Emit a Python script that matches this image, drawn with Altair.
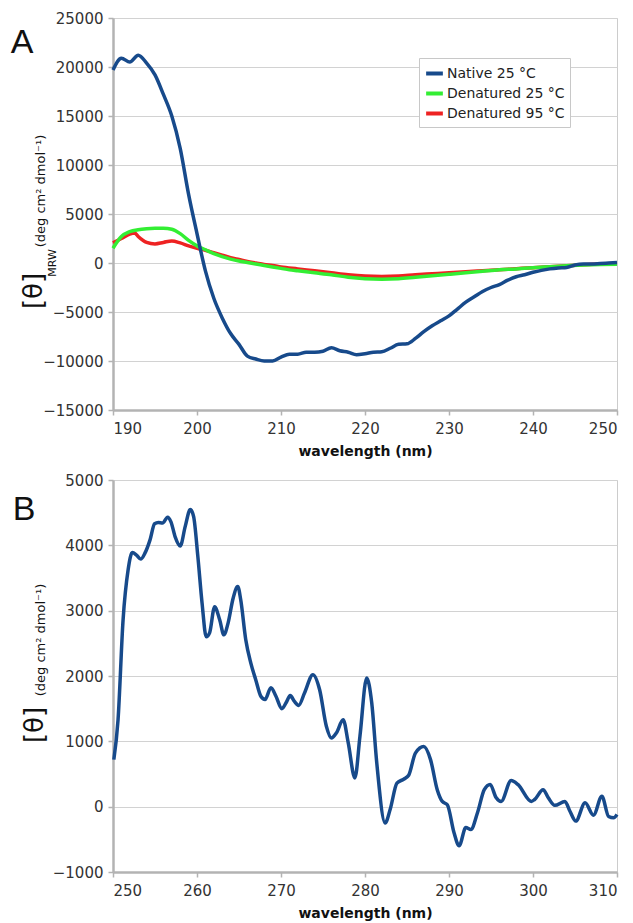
import altair as alt
import pandas as pd

# ---------------- Panel A data ----------------
native_wl = [190, 191, 192, 193, 194, 195, 196, 197, 198, 199, 200, 201, 202, 203, 204, 205,
             206, 207, 208, 209, 210, 211, 212, 213, 214, 215, 216, 217, 218, 219, 220, 221,
             222, 223, 224, 225, 226, 227, 228, 229, 230, 231, 232, 233, 234, 235, 236, 237,
             238, 239, 240, 241, 242, 243, 244, 245, 246, 247, 248, 249, 250]
native_val = [19700, 20900, 20500, 21200, 20400, 19200, 17200, 15000, 11700, 7000, 3000, -800,
              -3600, -5600, -7200, -8300, -9500, -9800, -10000, -10000, -9600, -9300, -9300,
              -9100, -9100, -9000, -8650, -8950, -9100, -9350, -9250, -9100, -9050, -8700,
              -8300, -8250, -7700, -7000, -6400, -5900, -5400, -4700, -4000, -3450, -2900,
              -2500, -2200, -1750, -1400, -1200, -950, -750, -600, -500, -450, -200, -100,
              -100, -50, 0, 50]

den25_wl = [190, 191, 192, 193, 194, 195, 196, 197, 198, 199, 200, 201, 202, 203, 204, 205,
            206, 207, 208, 209, 210, 211, 212, 213, 214, 216, 218, 220, 222, 224, 226, 228,
            230, 232, 234, 236, 238, 240, 242, 244, 246, 248, 250]
den25_val = [1500, 2700, 3200, 3400, 3500, 3550, 3550, 3450, 3000, 2300, 1750, 1350, 950, 650,
             400, 200, 50, -100, -250, -400, -550, -700, -800, -900, -1000, -1200, -1450,
             -1600, -1650, -1600, -1450, -1300, -1150, -1000, -850, -700, -600, -480, -380,
             -280, -200, -150, -130]

den95_wl = [190, 191, 192, 192.6, 193, 194, 195, 196, 197, 198, 199, 200, 201, 202, 203, 204,
            205, 206, 207, 208, 209, 210, 212, 214, 216, 218, 220, 222, 224, 226, 228, 230,
            232, 234, 236, 238, 240, 242, 244, 246, 248, 250]
den95_val = [2050, 2500, 2950, 3050, 2700, 2100, 1950, 2100, 2250, 2050, 1750, 1500, 1300, 1050,
             800, 550, 350, 150, 0, -150, -250, -400, -600, -800, -1000, -1200, -1330, -1370,
             -1330, -1200, -1100, -1000, -880, -780, -680, -580, -480, -380, -280, -180, -100,
             -60]

series_names = ["Native 25 °C", "Denatured 25 °C", "Denatured 95 °C"]
series_colors = ["#174a8b", "#33ee33", "#ee2222"]

# ---------------- Panel B data ----------------
b_wl = [250.1, 250.6, 251.2, 251.8, 252.3, 252.8, 253.3, 253.8, 254.4, 254.95, 255.4, 255.9,
        256.5, 256.9, 257.4, 258.0, 258.6, 259.2, 259.6, 260.1, 260.6, 261.1, 261.5, 262.1,
        262.7, 263.2, 263.7, 264.3, 264.85, 265.2, 265.8, 266.4, 267.0, 267.6, 268.1, 268.8,
        269.4, 270.1, 270.6, 271.1, 271.6, 272.1, 272.8, 273.8, 274.6, 275.4, 276.0, 276.6,
        277.4, 278.0, 278.8, 279.4, 280.2, 280.8, 281.4, 282.4, 283.0, 283.8, 284.6, 285.2,
        286.0, 287.0, 287.8, 288.6, 289.2, 289.8, 290.6, 291.2, 292.0, 292.6, 293.4, 294.2,
        294.9, 295.6, 296.2, 297.4, 298.2, 299.8, 300.2, 301.2, 301.8, 302.6, 303.8, 304.4,
        305.1, 306.2, 307.2, 308.2, 309.0, 309.6, 310.0]
b_val = [720, 1330, 2860, 3625, 3890, 3850, 3790, 3880, 4080, 4330, 4350, 4340, 4430, 4360,
         4130, 3990, 4290, 4550, 4440, 3830, 3120, 2600, 2660, 3060, 2860, 2630, 2810, 3190,
         3370, 3170, 2560, 2200, 1940, 1690, 1640, 1820, 1690, 1500, 1590, 1700, 1610, 1550,
         1740, 2020, 1790, 1230, 1050, 1130, 1330, 980, 440, 1080, 1970, 1590, 670, -250, -40,
         360, 420, 480, 820, 920, 720, 260, 80, 30, -400, -600, -320, -350, -90, 260, 340, 140,
         80, 400, 340, 80, 110, 260, 140, 20, 80, -70, -220, 60, -130, 160, -150, -170, -120]

# ---------------- Text ----------------
x_title = "wavelength (nm)"
theta_label = ["[θ]"]
mrw_label = ["MRW"]
unit_label = ["(deg cm² dmol⁻¹)"]
panel_a = ["A"]
panel_b = ["B"]

a_ticks_x = [190, 200, 210, 220, 230, 240, 250]
a_ticks_y = [-15000, -10000, -5000, 0, 5000, 10000, 15000, 20000, 25000]
b_ticks_x = [250, 260, 270, 280, 290, 300, 310]
b_ticks_y = [-1000, 0, 1000, 2000, 3000, 4000, 5000]

W, H = 504, 392
LABEL_COLOR = "#333333"
FONT = "DejaVu Sans"


def make_df(wl, val, name):
    return pd.DataFrame({"wl": wl, "val": val, "series": name})


color_scale = alt.Scale(domain=series_names, range=series_colors)


def axis_x(vals):
    return alt.Axis(values=vals, title=x_title, grid=False, tickSize=5, labelPadding=6,
                    titlePadding=8)


def axis_y(vals):
    return alt.Axis(values=vals, title=None, format="d", tickSize=5, labelPadding=5,
                    grid=True)


def line_layer(df, xdom, ydom, xt, yt, legend=False):
    enc_color = alt.Color(
        "series:N", scale=color_scale,
        legend=alt.Legend(orient="none", legendX=306, legendY=40, title=None,
                          fillColor="white", strokeColor="#c8c8c8", padding=5,
                          symbolType="stroke", symbolStrokeWidth=4, symbolSize=280,
                          labelFontSize=14, labelFont=FONT, labelColor="#222222",
                          rowPadding=1, labelOffset=2, symbolOffset=0) if legend else None,
    )
    return alt.Chart(df).mark_line(strokeWidth=3.5, interpolate="monotone").encode(
        x=alt.X("wl:Q", scale=alt.Scale(domain=xdom, nice=False, zero=False), axis=axis_x(xt)),
        y=alt.Y("val:Q", scale=alt.Scale(domain=ydom, nice=False, zero=False), axis=axis_y(yt)),
        color=enc_color,
    )


def text_layer(txt, x, y, size, angle=0, font=FONT, baseline="middle"):
    return alt.Chart(pd.DataFrame({"t": txt})).mark_text(
        angle=angle, fontSize=size, font=font, color="#111111", align="center",
        baseline=baseline,
    ).encode(x=alt.value(x), y=alt.value(y), text="t:N")


# Panel A
xdomA, ydomA = [190, 250], [-15000, 25000]
a_red = line_layer(make_df(den95_wl, den95_val, series_names[2]), xdomA, ydomA, a_ticks_x, a_ticks_y, legend=True)
a_green = line_layer(make_df(den25_wl, den25_val, series_names[1]), xdomA, ydomA, a_ticks_x, a_ticks_y, legend=True)
a_blue = line_layer(make_df(native_wl, native_val, series_names[0]), xdomA, ydomA, a_ticks_x, a_ticks_y, legend=True)

chartA = alt.layer(
    a_red, a_green, a_blue,
    text_layer(theta_label, -79, 273, 26, angle=270),
    text_layer(mrw_label, -60, 245, 11, angle=270),
    text_layer(unit_label, -72, 173, 13, angle=270),
    text_layer(panel_a, -91, 35, 34, font="Liberation Sans", baseline="alphabetic"),
).properties(width=W, height=H)

# Panel B
xdomB, ydomB = [250, 310], [-1000, 5000]
b_line = alt.Chart(pd.DataFrame({"wl": b_wl, "val": b_val})).mark_line(
    strokeWidth=3.5, interpolate="monotone", color=series_colors[0]
).encode(
    x=alt.X("wl:Q", scale=alt.Scale(domain=xdomB, nice=False, zero=False), axis=axis_x(b_ticks_x)),
    y=alt.Y("val:Q", scale=alt.Scale(domain=ydomB, nice=False, zero=False), axis=axis_y(b_ticks_y)),
)

chartB = alt.layer(
    b_line,
    text_layer(theta_label, -78, 245, 26, angle=270),
    text_layer(unit_label, -72, 160, 13, angle=270),
    text_layer(panel_b, -89, 40, 34, font="Liberation Sans", baseline="alphabetic"),
).properties(width=W, height=H)

chart = alt.vconcat(chartA, chartB, spacing=13).resolve_scale(color="independent").properties(
    padding={"left": 2, "top": 2, "right": 0, "bottom": 0}
).configure_view(
    stroke="#cccccc", strokeWidth=1
).configure_axis(
    labelFont=FONT, labelFontSize=15, labelColor=LABEL_COLOR,
    titleFont=FONT, titleFontSize=14, titleFontWeight="bold", titleColor="#111111",
    domainColor="#b3b3b3", domainWidth=2.5, tickColor="#b3b3b3", tickWidth=1.5,
    gridColor="#d2d2d2", gridWidth=1,
).configure_axisX(domain=True).configure_axisY(domain=True)

chart.save("out.html", embed_options={"renderer": "svg", "actions": False})
